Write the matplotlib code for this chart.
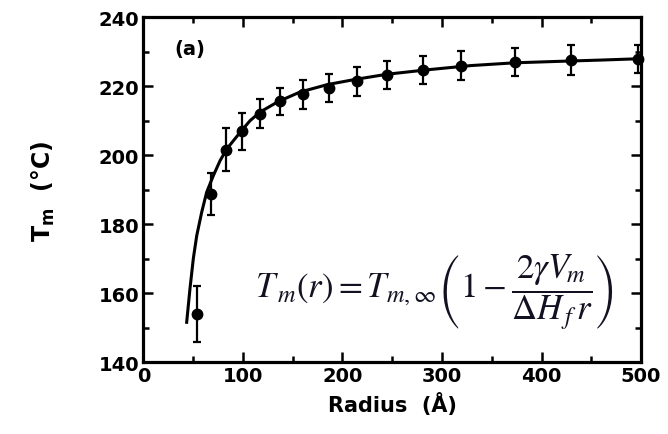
import matplotlib
matplotlib.use("Agg")
import matplotlib.pyplot as plt
from matplotlib.ticker import MultipleLocator

# measured data points
radius = [54, 68, 83, 99, 117, 137, 160, 186, 215, 245, 281, 319, 373, 430, 497]
tm = [154.0, 188.8, 201.6, 207.0, 212.0, 215.6, 217.7, 219.4, 221.4, 223.3, 224.8, 226.0, 227.0, 227.7, 227.9]
tm_err = [8.2, 6.1, 6.2, 5.4, 4.2, 4.0, 4.2, 4.1, 4.1, 4.0, 4.1, 4.2, 4.0, 4.3, 4.1]

# fitted curve
curve_r = [43.4, 46.7, 50.1, 53.5, 58.5, 63.5, 70.2, 76.9, 83.6, 97, 107, 117, 135, 157,
           185, 213, 245, 286, 329, 373, 415, 460, 500]
curve_t = [151.6, 161.3, 170.1, 176.7, 183.5, 189.3, 194.1, 198.4, 201.8, 206.6, 210.0,
           212.5, 215.5, 218.3, 220.5, 222.0, 223.5, 224.8, 226.0, 226.8, 227.2, 227.6, 228.0]

x_ticks = [0, 100, 200, 300, 400, 500]
y_ticks = [140, 160, 180, 200, 220, 240]

plt.rcParams['font.family'] = ['DejaVu Sans']
plt.rcParams['mathtext.fontset'] = 'stix'

fig = plt.figure(figsize=(6.68, 4.35), dpi=100)
ax = fig.add_axes([0.2148, 0.1648, 0.7448, 0.7932])

ax.plot(curve_r, curve_t, color='black', lw=2.2, zorder=2)
ax.errorbar(radius, tm, yerr=tm_err, fmt='o', color='black', ms=7.5, elinewidth=1.6,
            capsize=3, capthick=1.6, zorder=3, clip_on=False)

ax.set_xlim(0, 500)
ax.set_ylim(140, 240)
ax.set_xticks(x_ticks)
ax.set_yticks(y_ticks)
ax.xaxis.set_minor_locator(MultipleLocator(50))
ax.yaxis.set_minor_locator(MultipleLocator(10))
ax.tick_params(which='both', direction='in', top=True, right=True, width=1.8,
               labelsize=14, pad=3)
ax.tick_params(which='major', length=7)
ax.tick_params(which='minor', length=4)
for lab in ax.get_xticklabels() + ax.get_yticklabels():
    lab.set_fontweight('bold')
for s in ax.spines.values():
    s.set_linewidth(2.3)

ax.set_xlabel('Radius  (Å)', fontsize=15, fontweight='bold', labelpad=5)
ax.set_ylabel(r'T$_\mathbf{m}$  (°C)', fontsize=17, fontweight='bold', labelpad=30,
              math_fontfamily='dejavusans')

ax.text(0.063, 0.91, '(a)', transform=ax.transAxes, fontsize=14, fontweight='bold',
        va='center', ha='left')

ax.text(0.224, 0.207,
        r'$T_{\,m}\left(r\right)=T_{m,\infty}\left(1-\dfrac{2\gamma V_{\!m}}{\Delta H_{\,f}\,r}\right)$',
        transform=ax.transAxes, fontsize=25, fontweight='normal', color='#111122',
        va='center', ha='left')

fig.savefig('out.png', dpi=100)
